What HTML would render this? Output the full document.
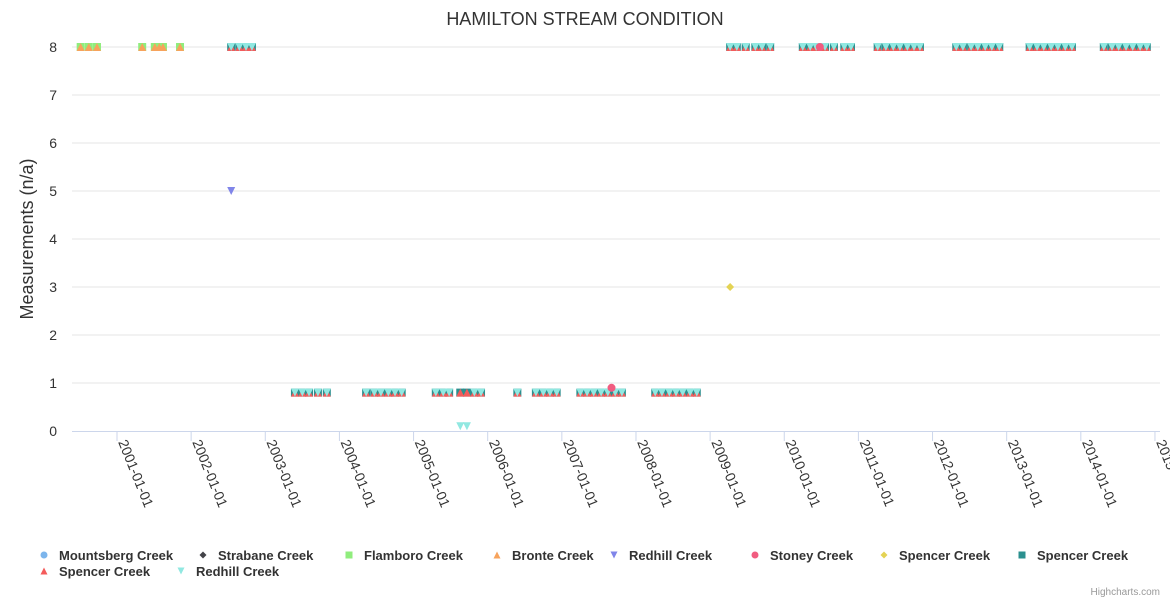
<!DOCTYPE html>
<html><head><meta charset="utf-8"><style>
body{margin:0;background:#fff;font-family:"Liberation Sans",sans-serif;}
svg text{font-family:"Liberation Sans",sans-serif;}
</style></head><body>
<svg id="chart" width="1170" height="600" xmlns="http://www.w3.org/2000/svg">
<text x="585" y="25" text-anchor="middle" font-size="18" fill="#333">HAMILTON STREAM CONDITION</text>
<text transform="translate(33,239) rotate(-90)" text-anchor="middle" font-size="18" fill="#333">Measurements (n/a)</text>
<g id="grid"></g><g id="xaxis"></g><g id="marks"></g><g id="legend"></g>
<text x="1160" y="595" text-anchor="end" font-size="10" fill="#999">Highcharts.com</text>
</svg>
<script>
const yTicks=[0,1,2,3,4,5,6,7,8];
const xTickYears=[2001,2002,2003,2004,2005,2006,2007,2008,2009,2010,2011,2012,2013,2014,2015];
const xTickLabels=["2001-01-01","2002-01-01","2003-01-01","2004-01-01","2005-01-01","2006-01-01","2007-01-01","2008-01-01","2009-01-01","2010-01-01","2011-01-01","2012-01-01","2013-01-01","2014-01-01","2015-01-01"];
const earlyDates=[2000.51,2000.62,2000.73,2001.34,2001.51,2001.57,2001.62,2001.85];
const flamboroValues=[8,8,8,8,8,8,8,8];
const bronteValues=[8,8,8,8,8,8,8,8];
const spencerDates=[2002.54,2002.65,2002.74,2002.82,
2003.40,2003.50,2003.59,2003.71,2003.83,2004.36,2004.47,2004.56,2004.66,2004.75,2004.84,2005.30,2005.40,2005.48,2005.63,2005.72,2005.82,2005.91,2006.40,2006.65,2006.75,2006.84,2006.93,2007.25,2007.34,2007.43,2007.53,2007.62,2007.72,2007.81,2008.26,2008.35,2008.45,2008.54,2008.63,2008.73,2008.82,
2009.27,2009.36,2009.48,2009.61,2009.70,2009.81,2010.25,2010.35,2010.43,2010.48,2010.55,2010.67,2010.81,2010.90,2011.26,2011.37,2011.47,2011.56,2011.66,2011.75,2011.83,2012.32,2012.41,2012.52,2012.61,2012.71,2012.80,2012.90,2013.31,2013.41,2013.50,2013.60,2013.69,2013.79,2013.88,2014.31,2014.42,2014.51,2014.61,2014.70,2014.80,2014.89];
const spencerTealValues=[8,8,8,8,
0.8,0.8,0.8,0.8,0.8,0.8,0.8,0.8,0.8,0.8,0.8,0.8,0.8,0.8,0.8,0.8,0.8,0.8,0.8,0.8,0.8,0.8,0.8,0.8,0.8,0.8,0.8,0.8,0.8,0.8,0.8,0.8,0.8,0.8,0.8,0.8,0.8,
8,8,8,8,8,8,8,8,8,8,8,8,8,8,8,8,8,8,8,8,8,8,8,8,8,8,8,8,8,8,8,8,8,8,8,8,8,8,8,8,8,8,8];
const spencerRedValues=[8,8,8,8,
0.8,0.8,0.8,0.8,0.8,0.8,0.8,0.8,0.8,0.8,0.8,0.8,0.8,0.8,0.8,0.8,0.8,0.8,0.8,0.8,0.8,0.8,0.8,0.8,0.8,0.8,0.8,0.8,0.8,0.8,0.8,0.8,0.8,0.8,0.8,0.8,0.8,
8,8,8,8,8,8,8,8,8,8,8,8,8,8,8,8,8,8,8,8,8,8,8,8,8,8,8,8,8,8,8,8,8,8,8,8,8,8,8,8,8,8,8];
const redhillCyanValues=[8,8,8,8,
0.8,0.8,0.8,0.8,0.8,0.8,0.8,0.8,0.8,0.8,0.8,0.8,0.8,0.8,0.1,0.1,0.8,0.8,0.8,0.8,0.8,0.8,0.8,0.8,0.8,0.8,0.8,0.8,0.8,0.8,0.8,0.8,0.8,0.8,0.8,0.8,0.8,
8,8,8,8,8,8,8,8,8,8,8,8,8,8,8,8,8,8,8,8,8,8,8,8,8,8,8,8,8,8,8,8,8,8,8,8,8,8,8,8,8,8,8];
const redhillPurpleDates=[2002.54];const redhillPurpleValues=[5];
const stoneyDates=[2007.67,2010.48];const stoneyValues=[0.9,8];
const spencerYellowDates=[2009.27];const spencerYellowValues=[3];
const legendNames=["Mountsberg Creek","Strabane Creek","Flamboro Creek","Bronte Creek","Redhill Creek","Stoney Creek","Spencer Creek","Spencer Creek","Spencer Creek","Redhill Creek"];
const legendColors=["#7cb5ec","#434348","#90ed7d","#f7a35c","#8085e9","#f15c80","#e4d354","#2b908f","#f45b5b","#91e8e1"];
const legendSymbols=["circle","diamond","square","triangle","triangle-down","circle","diamond","square","triangle","triangle-down"];

const NS="http://www.w3.org/2000/svg";
const X0=72,X1=1160,Y0=431,Y8=47;
const xs=y=>117+(y-2001)*74.14;
const ys=v=>Y0-(v/8)*(Y0-Y8);
function el(tag,attrs,parent){const e=document.createElementNS(NS,tag);for(const k in attrs)e.setAttribute(k,attrs[k]);parent.appendChild(e);return e;}
function sym(kind,cx,cy,color,parent,r){r=r||4;let e;
 if(kind==="circle")e=el("circle",{cx,cy,r,fill:color},parent);
 else if(kind==="square")e=el("rect",{x:cx-r,y:cy-r,width:2*r,height:2*r,fill:color},parent);
 else if(kind==="diamond")e=el("path",{d:`M${cx} ${cy-r}L${cx+r} ${cy}L${cx} ${cy+r}L${cx-r} ${cy}Z`,fill:color},parent);
 else if(kind==="triangle")e=el("path",{d:`M${cx} ${cy-r}L${cx+r} ${cy+r}L${cx-r} ${cy+r}Z`,fill:color},parent);
 else e=el("path",{d:`M${cx-r} ${cy-r}L${cx+r} ${cy-r}L${cx} ${cy+r}Z`,fill:color},parent);
 return e;}
const grid=document.getElementById("grid");
yTicks.forEach(t=>{
 if(t>0){const l=el("line",{x1:X0,x2:X1,y1:ys(t),y2:ys(t),stroke:"#e6e6e6"},grid);
 
 }
 const tx=el("text",{x:57,y:ys(t)+5,"text-anchor":"end","font-size":"14",fill:"#333"},grid);tx.textContent=t;
 
 
});
const xa=document.getElementById("xaxis");
const ax=el("line",{x1:X0,x2:X1,y1:Y0+0.5,y2:Y0+0.5,stroke:"#ccd6eb"},xa);


xTickYears.forEach((yr,i)=>{const x=xs(yr);
 const tk=el("line",{x1:x,x2:x,y1:Y0,y2:Y0+10,stroke:"#ccd6eb"},xa);
 
 
 const t=el("text",{transform:`translate(${x+1},${442}) rotate(68)`,"font-size":"14",fill:"#333","text-anchor":"start"},xa);
 t.textContent=xTickLabels[i];
 
 
});
const mk=document.getElementById("marks");
function series(dates,vals,kind,color,name){const g=el("g",{},mk);
 
 
 dates.forEach((d,i)=>{const m=sym(kind,xs(d),ys(vals[i]),color,g);
 
 });}
series(earlyDates,flamboroValues,"square","#90ed7d","flamboro-series");
series(earlyDates,bronteValues,"triangle","#f7a35c","bronte-series");
series(redhillPurpleDates,redhillPurpleValues,"triangle-down","#8085e9","redhill-purple-series");
series(spencerDates,spencerTealValues,"square","#2b908f","spencer-teal-series");
series(spencerDates,spencerRedValues,"triangle","#f45b5b","spencer-red-series");
series(spencerDates,redhillCyanValues,"triangle-down","#91e8e1","redhill-cyan-series");
series(stoneyDates,stoneyValues,"circle","#f15c80","stoney-series");
series(spencerYellowDates,spencerYellowValues,"diamond","#e4d354","spencer-yellow-series");
const lg=document.getElementById("legend");
const lx=[44,203,349,497,614,755,884,1022,44,181],ly=[556,556,556,556,556,556,556,556,572,572];
legendNames.forEach((n,i)=>{const g=el("g",{},lg);
 
 
 sym(legendSymbols[i],lx[i],ly[i]-1,legendColors[i],g,3.5);
 const t=el("text",{x:lx[i]+15,y:ly[i]+4,"font-size":"13","font-weight":"bold",fill:"#333"},g);t.textContent=n;});
</script>
</body></html>
